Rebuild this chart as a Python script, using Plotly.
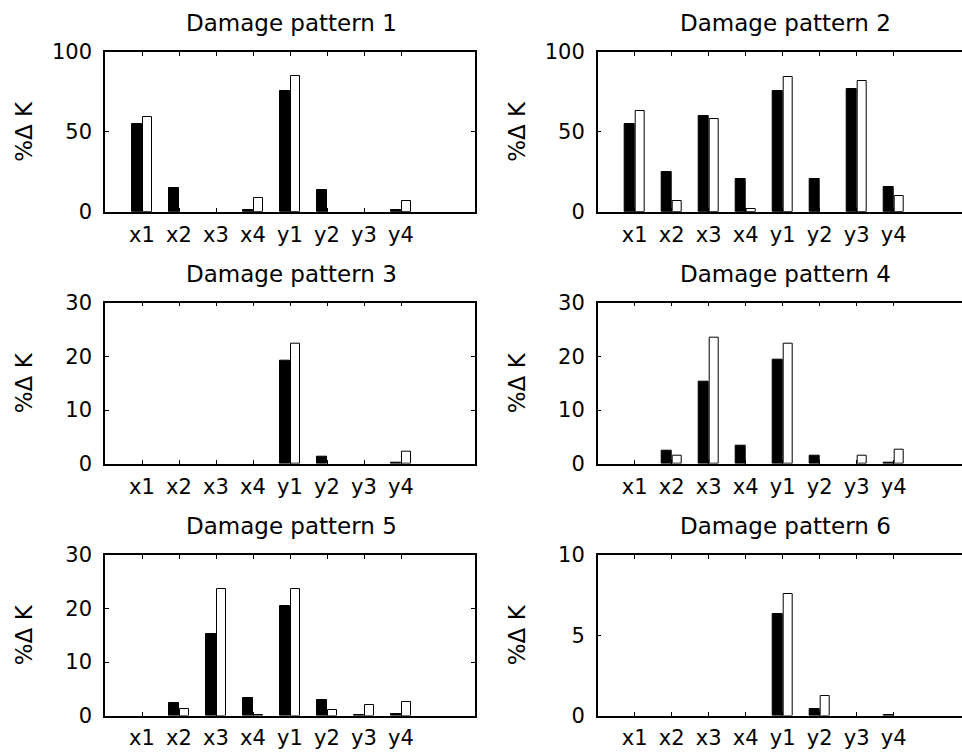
import plotly.graph_objects as go

categories = ["x1", "x2", "x3", "x4", "y1", "y2", "y3", "y4"]
cat_pos = [1, 2, 3, 4, 5, 6, 7, 8]

dark_1 = [55.2, 14.8, 0, 0.8, 75.6, 13.5, 0, 0.8]
light_1 = [59.6, 0, 0, 8.3, 85.2, 0, 0, 6.9]
dark_2 = [54.8, 24.8, 60.0, 20.4, 75.4, 20.4, 76.7, 15.4]
light_2 = [63.3, 6.5, 58.3, 1.4, 84.2, 0, 82.0, 9.6]
dark_3 = [0, 0, 0, 0, 19.2, 1.37, 0, 0.15]
light_3 = [0, 0, 0, 0, 22.3, 0, 0, 2.3]
dark_4 = [0, 2.4, 15.3, 3.45, 19.3, 1.5, 0, 0.15]
light_4 = [0, 1.6, 23.5, 0, 22.4, 0, 1.45, 2.7]
dark_5 = [0, 2.25, 15.3, 3.3, 20.5, 2.85, 0.05, 0.2]
light_5 = [0, 1.3, 23.7, 0.05, 23.6, 1.05, 2.05, 2.6]
dark_6 = [0, 0, 0, 0, 6.35, 0.41, 0, 0.02]
light_6 = [0, 0, 0, 0, 7.55, 1.22, 0, 0]

panel_titles = ["Damage pattern 1", "Damage pattern 2", "Damage pattern 3",
                "Damage pattern 4", "Damage pattern 5", "Damage pattern 6"]
y_max = [100, 100, 30, 30, 30, 10]
y_tickvals = [[0, 50, 100], [0, 50, 100], [0, 10, 20, 30],
              [0, 10, 20, 30], [0, 10, 20, 30], [0, 5, 10]]
y_label = "%\u0394 K"

darks = [dark_1, dark_2, dark_3, dark_4, dark_5, dark_6]
lights = [light_1, light_2, light_3, light_4, light_5, light_6]

W, H = 962, 756
FONT = "DejaVu Sans"

# pixel geometry
x_left = [(105, 475), (597.7, 962)]
x_rng = [10, (962 - 597.7) / 37.0]
rows_px = [(52, 211.7), (302.7, 463.8), (555, 715.5)]
title_cx = [291, 785]
ylab_cx = [24, 517]


def line_widths(vals):
    return [0 if v == 0 else 1 for v in vals]


fig = go.Figure()
layout = dict(
    template="none",
    width=W, height=H, margin=dict(l=0, r=0, t=0, b=0, autoexpand=False),
    paper_bgcolor="white", plot_bgcolor="white", showlegend=False,
    font=dict(family=FONT, color="black"),
    bargap=0, annotations=[],
)

for i in range(6):
    r, c = divmod(i, 2)
    sfx = "" if i == 0 else str(i + 1)
    xa, ya = "x" + sfx, "y" + sfx
    fig.add_trace(go.Bar(
        x=cat_pos, y=darks[i], xaxis=xa, yaxis=ya,
        width=0.25, offset=-0.26,
        marker=dict(color="black",
                    line=dict(color="black", width=line_widths(darks[i]))),
    ))
    fig.add_trace(go.Bar(
        x=cat_pos, y=lights[i], xaxis=xa, yaxis=ya,
        width=0.25, offset=0.02,
        marker=dict(color="white",
                    line=dict(color="black", width=line_widths(lights[i]))),
    ))
    x0, x1 = x_left[c]
    top, bot = rows_px[r]
    layout["xaxis" + sfx] = dict(
        domain=[x0 / W, x1 / W], range=[0, x_rng[c]], anchor=ya,
        tickmode="array", tickvals=cat_pos, ticktext=categories,
        ticks="inside", ticklen=4, tickwidth=1, tickcolor="black",
        showline=True, linecolor="black", linewidth=1.5, mirror="ticks",
        showgrid=False, zeroline=False, fixedrange=True, automargin=False,
        tickfont=dict(family=FONT, size=21, color="black"),
        ticklabelstandoff=3,
    )
    layout["yaxis" + sfx] = dict(
        domain=[1 - bot / H, 1 - top / H], range=[0, y_max[i]], anchor=xa,
        tickmode="array", tickvals=y_tickvals[i],
        ticks="inside", ticklen=4, tickwidth=1, tickcolor="black",
        showline=True, linecolor="black", linewidth=1.5,
        mirror="ticks" if c == 0 else False,
        showgrid=False, zeroline=False, fixedrange=True, automargin=False,
        tickfont=dict(family=FONT, size=21, color="black"),
        ticklabelstandoff=7,
    )
    layout["annotations"].append(dict(
        text=panel_titles[i], xref="paper", yref="paper",
        x=title_cx[c] / W, y=1 - top / H, xanchor="center", yanchor="bottom",
        yshift=14, showarrow=False,
        font=dict(family=FONT, size=23, color="black"),
    ))
    layout["annotations"].append(dict(
        text=y_label, xref="paper", yref="paper", textangle=-90,
        x=ylab_cx[c] / W, y=1 - (top + bot) / 2 / H,
        xanchor="center", yanchor="middle", showarrow=False,
        font=dict(family=FONT, size=23, color="black"),
    ))

fig.update_layout(**layout)
fig.write_html("out.html")
